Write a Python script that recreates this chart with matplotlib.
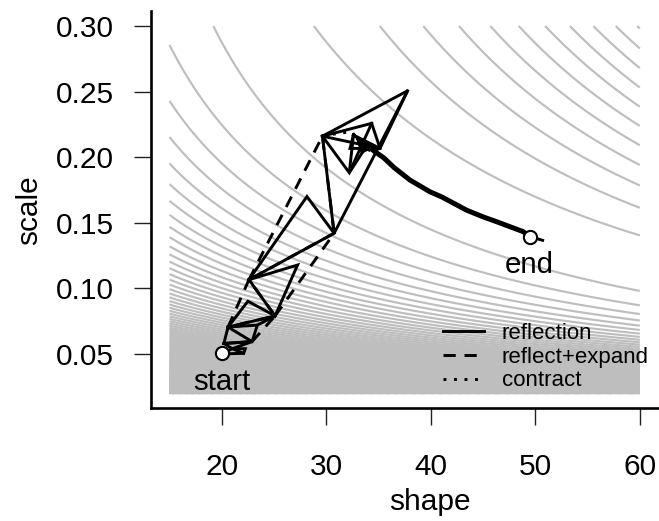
import math
import numpy as np
import matplotlib
matplotlib.use("Agg")
import matplotlib.pyplot as plt
from matplotlib.lines import Line2D

plt.rcParams['font.family'] = ['Liberation Sans', 'DejaVu Sans']

# ---- contour surface (gamma log-likelihood in shape / scale) ----
shape_range = [15.0, 60.0]
scale_range = [0.02, 0.30]
data_mean = 7.0          # sample mean of the data
log_gap = 0.0            # log(mean) - mean(log x)
level_anchor = (15.0, 0.2855)   # a contour passes through this point
level_step = 1.88        # spacing of contour levels

# ---- axes ----
x_ticks = [20, 30, 40, 50, 60]
y_ticks = [0.05, 0.10, 0.15, 0.20, 0.25, 0.30]
y_tick_labels = ["0.05", "0.10", "0.15", "0.20", "0.25", "0.30"]
legend_labels = ["reflection", "reflect+expand", "contract"]

# ---- Nelder-Mead history (shape, scale) ----
start_pt = (20.0, 0.0505)
end_pt = (49.5, 0.1394)

reflect_paths = [
    [(20.00, 0.0500), (22.10, 0.0505), (21.00, 0.0540), (20.00, 0.0500)],
    [(21.00, 0.0540), (22.25, 0.0540), (22.10, 0.0505)],
    [(20.20, 0.0580), (22.90, 0.0594), (21.00, 0.0540), (20.20, 0.0580)],
    [(20.60, 0.0705), (22.90, 0.0594), (20.20, 0.0580), (20.60, 0.0705)],
    [(20.60, 0.0705), (23.40, 0.0720), (22.90, 0.0594)],
    [(23.40, 0.0720), (25.10, 0.0790), (20.60, 0.0705)],
    [(20.60, 0.0705), (22.50, 0.0902), (25.10, 0.0790)],
    [(22.60, 0.1066), (27.25, 0.1178), (25.10, 0.0790), (22.60, 0.1066)],
    [(22.60, 0.1066), (28.15, 0.1700), (30.75, 0.1420), (22.60, 0.1066)],
    [(29.63, 0.2160), (30.75, 0.1420), (37.78, 0.2506), (29.63, 0.2160)],
    [(29.63, 0.2160), (35.14, 0.2067), (37.78, 0.2506)],
    [(29.63, 0.2160), (34.34, 0.2258), (35.14, 0.2067)],
    [(29.63, 0.2160), (32.20, 0.1882), (34.34, 0.2258)],
    [(32.60, 0.2169), (32.27, 0.2067), (35.14, 0.2067), (32.60, 0.2169)],
    [(32.60, 0.2169), (32.20, 0.1882), (33.90, 0.2090), (32.60, 0.2169)],
    [(33.00, 0.2140), (34.50, 0.2080), (33.40, 0.2040), (33.00, 0.2140)],
    [(33.40, 0.2120), (34.20, 0.2050), (33.60, 0.2080), (33.40, 0.2120)],
]

expand_paths = [
    [(22.90, 0.0594), (25.10, 0.0790), (20.60, 0.0705)],
    [(20.60, 0.0705), (22.60, 0.1066), (25.10, 0.0790)],
    [(25.10, 0.0790), (30.75, 0.1420), (22.60, 0.1066)],
    [(22.60, 0.1066), (29.63, 0.2160), (30.75, 0.1420)],
]

contract_paths = [
    [(29.63, 0.2163), (32.40, 0.2195), (33.40, 0.2105)],
]

converge_path = [(33.90, 0.2090), (34.60, 0.2045), (35.50, 0.1995), (36.50, 0.1920),
                 (38.00, 0.1826), (39.90, 0.1737), (41.10, 0.1695), (43.40, 0.1597),
                 (45.00, 0.1545), (46.30, 0.1508), (48.85, 0.1432), (49.50, 0.1394)]
tail_path = [(49.30, 0.1400), (50.70, 0.1366)]


def loglik(k, th):
    k = np.asarray(k, dtype=float)
    th = np.asarray(th, dtype=float)
    lg = np.vectorize(math.lgamma)(k)
    L = math.log(data_mean) - log_gap
    return (k - 1) * L - data_mean / th - k * np.log(th) - lg


fig = plt.figure(figsize=(6.59, 5.21), dpi=100)
ax = fig.add_axes([0.2287, 0.2169, 0.8472, 0.7614])

kk = np.linspace(shape_range[0], shape_range[1], 500)
tt = np.linspace(scale_range[0], scale_range[1], 500)
K, T = np.meshgrid(kk, tt)
Z = loglik(K, T)
c0 = float(loglik(level_anchor[0], level_anchor[1]))
jlo = int(np.floor((Z.min() - c0) / level_step))
jhi = int(np.ceil((Z.max() - c0) / level_step))
levels = c0 + level_step * np.arange(jlo, jhi + 1)
levels = levels[(levels > Z.min()) & (levels < Z.max())]
ax.contour(K, T, Z, levels=levels, colors='#BEBEBE', linewidths=1.55, linestyles='solid', zorder=1)

lw = 2.1
for p in reflect_paths:
    xs, ys = zip(*p)
    ax.plot(xs, ys, color='black', lw=lw, solid_joinstyle='miter', zorder=3)
for p in expand_paths:
    xs, ys = zip(*p)
    ax.plot(xs, ys, color='black', lw=lw, dashes=(4, 3), zorder=3)
for p in contract_paths:
    xs, ys = zip(*p)
    ax.plot(xs, ys, color='black', lw=lw, dashes=(1, 2.6), zorder=3)
xs, ys = zip(*converge_path)
ax.plot(xs, ys, color='black', lw=3.6, solid_joinstyle='round', zorder=3)
xs, ys = zip(*tail_path)
ax.plot(xs, ys, color='black', lw=lw, zorder=3)

for pt in (start_pt, end_pt):
    ax.plot([pt[0]], [pt[1]], 'o', ms=9.5, mfc='white', mec='black', mew=1.5, zorder=5)

ax.text(20.0, 0.0226, 'start', ha='center', va='baseline', fontsize=21.2, zorder=6)
ax.text(49.45, 0.1117, 'end', ha='center', va='baseline', fontsize=21.2, zorder=6)

handles = [Line2D([], [], color='black', lw=lw),
           Line2D([], [], color='black', lw=lw, dashes=(4.2, 3.0)),
           Line2D([], [], color='black', lw=lw, dashes=(1, 2.6))]
ax.legend(handles, legend_labels, loc='upper left',
          bbox_to_anchor=(443.3 / 659, 1 - 323.0 / 521), bbox_transform=fig.transFigure,
          frameon=False, fontsize=16.0, handlelength=1.84, handletextpad=0.78,
          labelspacing=0.12, borderpad=0, borderaxespad=0)

ax.set_xlim(13.2, 66.62)
ax.set_ylim(0.0088, 0.3112)
ax.set_xticks(x_ticks)
ax.set_yticks(y_ticks, y_tick_labels)
for s in ('top', 'right'):
    ax.spines[s].set_visible(False)
for s in ('left', 'bottom'):
    ax.spines[s].set_linewidth(1.9)
ax.tick_params(axis='both', direction='out', length=12, width=1.0, color='#222222', labelsize=21.5)
ax.tick_params(axis='x', pad=20.5)
ax.tick_params(axis='y', pad=14.5)
ax.set_xlabel('shape', fontsize=21.5, labelpad=5)
ax.set_ylabel('scale', fontsize=21.5, labelpad=9)

fig.savefig('out.png', dpi=100)
